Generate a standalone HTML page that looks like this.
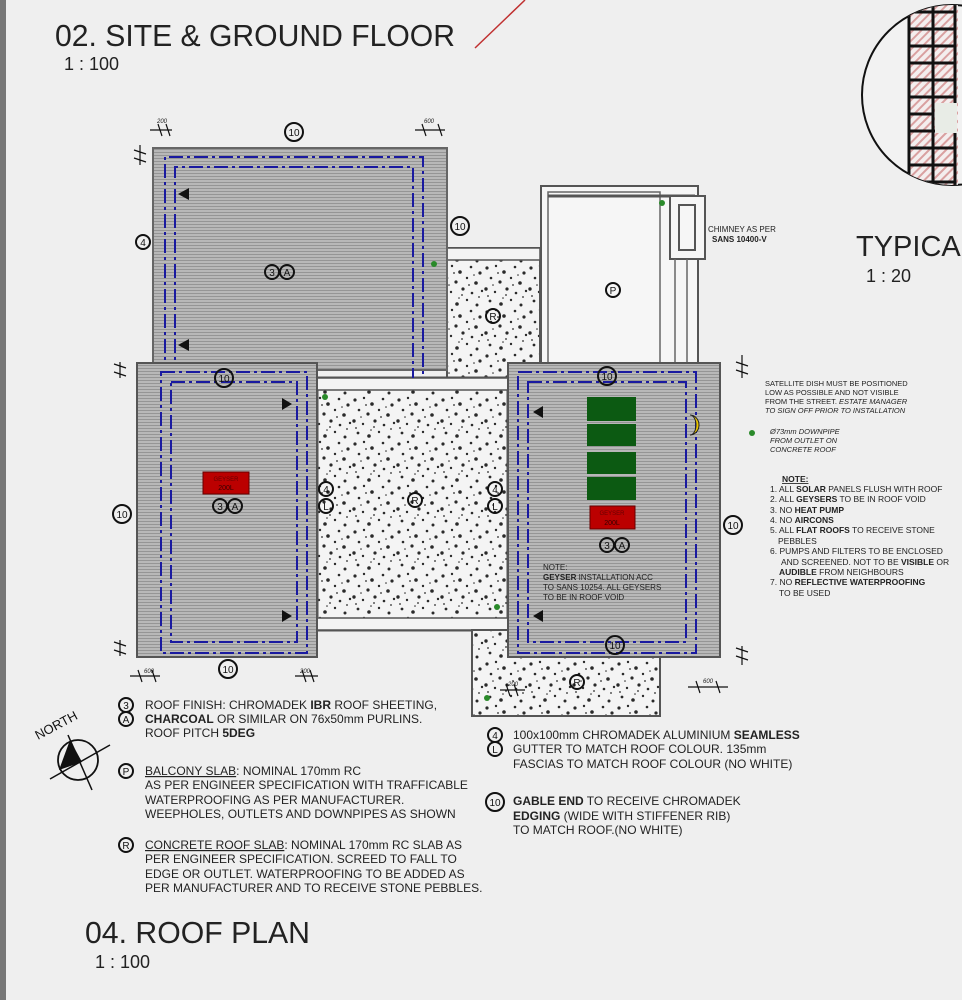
<!DOCTYPE html>
<html><head><meta charset="utf-8"><style>
html,body{margin:0;padding:0;background:#efefef;}
svg{display:block;font-family:"Liberation Sans",sans-serif;}
</style></head><body>
<svg width="962" height="1000" viewBox="0 0 962 1000" xmlns="http://www.w3.org/2000/svg">
<defs>
<pattern id="st" width="6" height="3" patternUnits="userSpaceOnUse">
<rect width="6" height="3" fill="#b8b8b8"/><rect y="2" width="6" height="1" fill="#959595"/>
</pattern>
<pattern id="sp" width="44" height="44" patternUnits="userSpaceOnUse">
<rect width="44" height="44" fill="#f4f4f4"/>
<g fill="#2a2a2a">
<circle cx="3" cy="4" r="1.6"/><circle cx="12" cy="2" r="1.2"/><circle cx="20" cy="8" r="1.8"/><circle cx="31" cy="3" r="1.3"/><circle cx="40" cy="9" r="1.6"/>
<circle cx="7" cy="14" r="1.3"/><circle cx="16" cy="18" r="1.6"/><circle cx="27" cy="14" r="1.2"/><circle cx="36" cy="19" r="1.8"/>
<circle cx="2" cy="25" r="1.7"/><circle cx="11" cy="28" r="1.2"/><circle cx="23" cy="25" r="1.6"/><circle cx="32" cy="29" r="1.3"/><circle cx="42" cy="27" r="1.2"/>
<circle cx="6" cy="37" r="1.4"/><circle cx="17" cy="40" r="1.8"/><circle cx="27" cy="36" r="1.2"/><circle cx="37" cy="41" r="1.5"/>
<circle cx="14" cy="9" r="0.9"/><circle cx="29" cy="21" r="0.9"/><circle cx="4" cy="32" r="0.9"/><circle cx="39" cy="33" r="0.9"/><circle cx="22" cy="31" r="0.9"/>
<circle cx="9" cy="21" r="0.8"/><circle cx="34" cy="11" r="0.8"/><circle cx="19" cy="34" r="0.8"/>
</g></pattern>
<pattern id="br" width="6" height="6" patternUnits="userSpaceOnUse" patternTransform="rotate(45)">
<rect width="6" height="6" fill="#f4eeee"/><rect width="2" height="6" fill="#d9a0a0"/>
</pattern>
</defs>
<rect width="962" height="1000" fill="#efefef"/>
<rect x="0" y="0" width="6" height="1000" fill="#777"/>

<!-- titles -->
<text x="55" y="46" font-size="31" fill="#222" textLength="400" lengthAdjust="spacingAndGlyphs">02. SITE &amp; GROUND FLOOR</text>
<text x="64" y="70" font-size="18" fill="#222">1 : 100</text>
<line x1="475" y1="48" x2="525" y2="0" stroke="#c03030" stroke-width="1.5"/>
<text x="856" y="256" font-size="29" fill="#222">TYPICAL</text>
<text x="866" y="282" font-size="18" fill="#222">1 : 20</text>
<text x="85" y="943" font-size="31" fill="#222" textLength="225" lengthAdjust="spacingAndGlyphs">04. ROOF PLAN</text>
<text x="95" y="968" font-size="18" fill="#222">1 : 100</text>

<!-- detail circle -->
<clipPath id="cc"><circle cx="952" cy="95" r="90"/></clipPath>
<circle cx="952" cy="95" r="90" fill="#f2f2f2" stroke="#111" stroke-width="2"/>
<g clip-path="url(#cc)">
<rect x="908" y="0" width="50" height="210" fill="url(#br)"/>
<g stroke="#111" stroke-width="3" fill="none">
<line x1="909" y1="0" x2="909" y2="210"/><line x1="933" y1="0" x2="933" y2="210"/><line x1="955" y1="0" x2="955" y2="210"/>
<path d="M909 12H955M909 29H955M909 46H955M909 63H955M909 80H955M909 97H955M909 114H933M909 131H955M909 148H955M909 165H955M909 182H955M909 199H955"/>
</g>
<rect x="935" y="103" width="22" height="30" fill="#e8ece6"/>
</g>

<!-- concrete areas -->
<rect x="447" y="248" width="93" height="130" fill="url(#sp)" stroke="#555" stroke-width="2"/>
<rect x="447" y="248" width="93" height="12" fill="#f4f4f4" stroke="#555" stroke-width="1.5"/>
<rect x="317" y="378" width="191" height="252" fill="url(#sp)" stroke="#555" stroke-width="3"/>
<rect x="317" y="378" width="191" height="12" fill="#f4f4f4" stroke="#555" stroke-width="1.5"/>
<rect x="317" y="618" width="191" height="12" fill="#f4f4f4" stroke="#555" stroke-width="1.5"/>
<rect x="472" y="630" width="188" height="86" fill="url(#sp)" stroke="#555" stroke-width="2"/>

<!-- balcony -->
<rect x="541" y="186" width="157" height="180" fill="#f6f6f6" stroke="#555" stroke-width="2"/>
<rect x="548" y="192" width="112" height="174" fill="none" stroke="#666" stroke-width="1.5"/>
<line x1="548" y1="196" x2="695" y2="196" stroke="#555" stroke-width="3"/>
<rect x="670" y="196" width="35" height="63" fill="#f6f6f6" stroke="#555" stroke-width="2"/>
<rect x="679" y="205" width="16" height="45" fill="none" stroke="#555" stroke-width="2"/>
<line x1="675" y1="259" x2="675" y2="366" stroke="#666" stroke-width="1.5"/><line x1="687" y1="259" x2="687" y2="366" stroke="#666" stroke-width="1.5"/>
<circle cx="662" cy="203" r="3" fill="#2a8a2a"/>
<text x="708" y="232" font-size="8" fill="#222">CHIMNEY AS PER</text>
<text x="712" y="242" font-size="8" font-weight="bold" fill="#222">SANS 10400-V</text>

<!-- top roof -->
<rect x="153" y="148" width="294" height="222" fill="url(#st)" stroke="#666" stroke-width="2"/>
<path d="M165 378V157H423V378" fill="none" stroke="#1a1aa0" stroke-width="2" stroke-dasharray="14 4 3 4"/>
<path d="M175 378V167H413V378" fill="none" stroke="#1a1aa0" stroke-width="2" stroke-dasharray="14 4 3 4"/>
<circle cx="434" cy="264" r="3" fill="#2a8a2a"/>
<polygon points="178,194 189,188 189,200" fill="#111"/><polygon points="178,345 189,339 189,351" fill="#111"/>

<!-- left roof -->
<rect x="137" y="363" width="180" height="294" fill="url(#st)" stroke="#555" stroke-width="2"/>
<rect x="161" y="372" width="146" height="281" fill="none" stroke="#1a1aa0" stroke-width="2" stroke-dasharray="14 4 3 4"/>
<rect x="171" y="382" width="126" height="260" fill="none" stroke="#1a1aa0" stroke-width="2" stroke-dasharray="14 4 3 4"/>
<rect x="203" y="472" width="46" height="22" fill="#b00" stroke="#600"/>
<text x="226" y="481" font-size="6" fill="#600" text-anchor="middle">GEYSER</text>
<text x="226" y="490" font-size="7" fill="#300" text-anchor="middle">200L</text>
<polygon points="292,404 282,398 282,410" fill="#111"/><polygon points="292,616 282,610 282,622" fill="#111"/>
<circle cx="325" cy="397" r="3" fill="#2a8a2a"/><circle cx="497" cy="607" r="3" fill="#2a8a2a"/>

<!-- right roof -->
<rect x="508" y="363" width="212" height="294" fill="url(#st)" stroke="#555" stroke-width="2"/>
<rect x="518" y="372" width="178" height="281" fill="none" stroke="#1a1aa0" stroke-width="2" stroke-dasharray="14 4 3 4"/>
<rect x="528" y="382" width="158" height="260" fill="none" stroke="#1a1aa0" stroke-width="2" stroke-dasharray="14 4 3 4"/>
<rect x="587" y="397" width="49" height="24" fill="#0c5a12"/><rect x="587" y="424" width="49" height="22" fill="#0c5a12"/>
<rect x="587" y="452" width="49" height="22" fill="#0c5a12"/><rect x="587" y="477" width="49" height="23" fill="#0c5a12"/>
<rect x="590" y="506" width="45" height="23" fill="#b00" stroke="#600"/>
<text x="612" y="515" font-size="6" fill="#600" text-anchor="middle">GEYSER</text>
<text x="612" y="525" font-size="7" fill="#300" text-anchor="middle">200L</text>
<path d="M690 415a9 10 0 0 1 0 20a6 10 0 0 0 0-20z" fill="#e8c400" stroke="#222"/>
<polygon points="533,412 543,406 543,418" fill="#111"/><polygon points="533,616 543,610 543,622" fill="#111"/>
<text x="543" y="570" font-size="8" fill="#222">NOTE:</text>
<text x="543" y="580" font-size="8" fill="#222"><tspan font-weight="bold">GEYSER</tspan> INSTALLATION ACC</text>
<text x="543" y="590" font-size="8" fill="#222">TO SANS 10254. ALL GEYSERS</text>
<text x="543" y="600" font-size="8" fill="#222">TO BE IN ROOF VOID</text>
<circle cx="487" cy="698" r="3" fill="#2a8a2a"/>

<!-- circled tags -->
<g fill="none" stroke="#111" stroke-width="2">
<circle cx="294" cy="132" r="9"/><circle cx="460" cy="226" r="9"/><circle cx="143" cy="242" r="7"/>
<circle cx="272" cy="272" r="7"/><circle cx="287" cy="272" r="7"/><circle cx="493" cy="316" r="7"/><circle cx="613" cy="290" r="7"/>
<circle cx="224" cy="378" r="9"/><circle cx="607" cy="376" r="9"/><circle cx="122" cy="514" r="9"/><circle cx="733" cy="525" r="9"/>
<circle cx="220" cy="506" r="7"/><circle cx="235" cy="506" r="7"/><circle cx="607" cy="545" r="7"/><circle cx="622" cy="545" r="7"/>
<circle cx="415" cy="500" r="7"/><circle cx="326" cy="489" r="7"/><circle cx="326" cy="506" r="7"/><circle cx="495" cy="489" r="7"/><circle cx="495" cy="506" r="7"/>
<circle cx="228" cy="669" r="9"/><circle cx="615" cy="645" r="9"/><circle cx="577" cy="682" r="7"/>
<circle cx="126" cy="705" r="7"/><circle cx="126" cy="719" r="7"/><circle cx="126" cy="771" r="7"/><circle cx="126" cy="845" r="7"/>
<circle cx="495" cy="735" r="7"/><circle cx="495" cy="749" r="7"/><circle cx="495" cy="802" r="9"/>
</g>
<g font-size="10" fill="#111" text-anchor="middle">
<text x="294" y="136">10</text><text x="460" y="230">10</text><text x="143" y="246">4</text><text x="272" y="276">3</text><text x="287" y="276">A</text>
<text x="493" y="320">R</text><text x="613" y="294">P</text><text x="224" y="382">10</text><text x="607" y="380">10</text><text x="122" y="518">10</text><text x="733" y="529">10</text>
<text x="220" y="510">3</text><text x="235" y="510">A</text><text x="607" y="549">3</text><text x="622" y="549">A</text><text x="415" y="504">R</text>
<text x="326" y="493">4</text><text x="326" y="510">L</text><text x="495" y="493">4</text><text x="495" y="510">L</text>
<text x="228" y="673">10</text><text x="615" y="649">10</text><text x="577" y="686">R</text>
<text x="126" y="709">3</text><text x="126" y="723">A</text><text x="126" y="775">P</text><text x="126" y="849">R</text>
<text x="495" y="739">4</text><text x="495" y="753">L</text><text x="495" y="806">10</text>
</g>

<!-- dims -->
<g stroke="#111" stroke-width="1.2">
<path d="M150 130H172M158 124L162 136M166 124L170 136"/><path d="M415 130H445M422 124L426 136M438 124L442 136"/>
<path d="M140 145V165M134 150L146 154M134 158L146 162"/><path d="M120 362V378M114 364L126 368M114 372L126 376"/>
<path d="M120 640V656M114 642L126 646M114 650L126 654"/><path d="M130 676H160M138 670L142 682M152 670L156 682"/>
<path d="M295 676H318M302 670L306 682M310 670L314 682"/><path d="M742 355V378M736 362L748 366M736 370L748 374"/>
<path d="M742 646V665M736 648L748 652M736 656L748 660"/><path d="M688 687H728M696 681L700 693M716 681L720 693"/>
<path d="M500 690H525M506 684L510 696M514 684L518 696"/>
</g>
<g font-size="6" font-style="italic" fill="#222">
<text x="157" y="123">200</text><text x="424" y="123">600</text><text x="144" y="673">600</text><text x="300" y="673">200</text><text x="703" y="683">600</text><text x="508" y="686">200</text>
</g>

<!-- right notes -->
<g font-size="7.5" fill="#222">
<text x="765" y="386">SATELLITE DISH MUST BE POSITIONED</text>
<text x="765" y="395">LOW AS POSSIBLE AND NOT VISIBLE</text>
<text x="765" y="404">FROM THE STREET. <tspan font-style="italic">ESTATE MANAGER</tspan></text>
<text x="765" y="413" font-style="italic">TO SIGN OFF PRIOR TO INSTALLATION</text>
<text x="770" y="434" font-style="italic">Ø73mm DOWNPIPE</text>
<text x="770" y="443" font-style="italic">FROM OUTLET ON</text>
<text x="770" y="452" font-style="italic">CONCRETE ROOF</text>
</g>
<circle cx="752" cy="433" r="3" fill="#2a8a2a"/>
<g font-size="8.5" fill="#222">
<text x="782" y="482" font-weight="bold" text-decoration="underline">NOTE:</text>
<text x="770" y="492">1. ALL <tspan font-weight="bold">SOLAR</tspan> PANELS FLUSH WITH ROOF</text>
<text x="770" y="502">2. ALL <tspan font-weight="bold">GEYSERS</tspan> TO BE IN ROOF VOID</text>
<text x="770" y="513">3. NO <tspan font-weight="bold">HEAT PUMP</tspan></text>
<text x="770" y="523">4. NO <tspan font-weight="bold">AIRCONS</tspan></text>
<text x="770" y="533">5. ALL <tspan font-weight="bold">FLAT ROOFS</tspan> TO RECEIVE STONE</text>
<text x="778" y="544">PEBBLES</text>
<text x="770" y="554">6. PUMPS AND FILTERS TO BE ENCLOSED</text>
<text x="781" y="565">AND SCREENED. NOT TO BE <tspan font-weight="bold">VISIBLE</tspan> OR</text>
<text x="779" y="575"><tspan font-weight="bold">AUDIBLE</tspan> FROM NEIGHBOURS</text>
<text x="770" y="585">7. NO <tspan font-weight="bold">REFLECTIVE WATERPROOFING</tspan></text>
<text x="779" y="596">TO BE USED</text>
</g>

<!-- north -->
<text x="38" y="740" font-size="13" fill="#111" transform="rotate(-28 38 740)">NORTH</text>
<circle cx="78" cy="760" r="20" fill="none" stroke="#111" stroke-width="1.8"/>
<line x1="50" y1="779" x2="110" y2="745" stroke="#111" stroke-width="1.5"/><line x1="68" y1="735" x2="92" y2="790" stroke="#111" stroke-width="1.5"/>
<polygon points="70,740 59,770 82,762" fill="#111"/>

<!-- legends -->
<g font-size="12" fill="#222">
<text x="145" y="709">ROOF FINISH: CHROMADEK <tspan font-weight="bold">IBR</tspan> ROOF SHEETING,</text>
<text x="145" y="723"><tspan font-weight="bold">CHARCOAL</tspan> OR SIMILAR ON 76x50mm PURLINS.</text>
<text x="145" y="737">ROOF PITCH <tspan font-weight="bold">5DEG</tspan></text>
<text x="145" y="775"><tspan text-decoration="underline">BALCONY SLAB</tspan>: NOMINAL 170mm RC</text>
<text x="145" y="789">AS PER ENGINEER SPECIFICATION WITH TRAFFICABLE</text>
<text x="145" y="804">WATERPROOFING AS PER MANUFACTURER.</text>
<text x="145" y="818">WEEPHOLES, OUTLETS AND DOWNPIPES AS SHOWN</text>
<text x="145" y="849"><tspan text-decoration="underline">CONCRETE ROOF SLAB</tspan>: NOMINAL 170mm RC SLAB AS</text>
<text x="145" y="863">PER ENGINEER SPECIFICATION. SCREED TO FALL TO</text>
<text x="145" y="878">EDGE OR  OUTLET. WATERPROOFING TO BE ADDED AS</text>
<text x="145" y="892">PER MANUFACTURER AND TO RECEIVE STONE PEBBLES.</text>
<text x="513" y="739">100x100mm CHROMADEK ALUMINIUM <tspan font-weight="bold">SEAMLESS</tspan></text>
<text x="513" y="753">GUTTER TO MATCH ROOF COLOUR. 135mm</text>
<text x="513" y="768">FASCIAS TO MATCH ROOF COLOUR (NO WHITE)</text>
<text x="513" y="805"><tspan font-weight="bold">GABLE END</tspan> TO RECEIVE CHROMADEK</text>
<text x="513" y="820"><tspan font-weight="bold">EDGING</tspan> (WIDE WITH STIFFENER RIB)</text>
<text x="513" y="834">TO MATCH ROOF.(NO WHITE)</text>
</g>
</svg>
</body></html>
